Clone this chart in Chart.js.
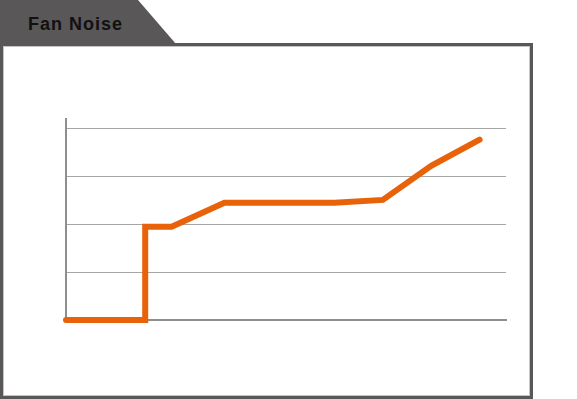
<!DOCTYPE html>
<html>
<head>
<meta charset="utf-8">
<script src="https://cdn.jsdelivr.net/npm/chart.js@4/dist/chart.umd.min.js"></script>
<style>
  html, body { margin: 0; padding: 0; background: #fff; }
  body { width: 577px; height: 399px; position: relative; overflow: hidden; }
  #tab {
    position: absolute; left: 0; top: 0; width: 176px; height: 44px;
    background: #595758;
    clip-path: polygon(0 0, 138px 0, 176px 44px, 0 44px);
    font-family: "Liberation Sans", Arial, sans-serif; font-weight: bold;
    font-size: 18px; letter-spacing: 1px; color: #111;
    box-sizing: border-box; padding-left: 28px; line-height: 48px;
  }
  #box {
    position: absolute; left: 0; top: 43px; width: 533px; height: 356px;
    box-sizing: border-box; border: 3px solid #595758;
    box-shadow: inset 0 0 0 1px #c4c4c4;
  }
  #noiseChart { position: absolute; left: 0; top: 0; }
</style>
</head>
<body>
<div id="tab">Fan Noise</div>
<div id="box"></div>
<canvas id="noiseChart" width="577" height="399"></canvas>
<script>
// fan speed (% of max) vs noise level
const fanSpeed = [0, 18, 18, 24, 36, 61, 72, 83, 94];
const noiseLevel = [0, 0, 19.5, 19.5, 24.5, 24.5, 25.1, 32.2, 37.7];
const gridTicks = [0, 10, 20, 30, 40];

const points = fanSpeed.map((x, i) => ({ x: x, y: noiseLevel[i] }));

new Chart(document.getElementById('noiseChart'), {
  type: 'line',
  data: {
    datasets: [{
      data: points,
      borderColor: '#e8620a',
      borderWidth: 6,
      borderCapStyle: 'round',
      pointRadius: 0,
      tension: 0,
      clip: false
    }]
  },
  options: {
    responsive: false,
    animation: false,
    layout: { padding: { left: 66, right: 71, top: 119, bottom: 79 } },
    plugins: { legend: { display: false }, tooltip: { enabled: false } },
    scales: {
      x: {
        type: 'linear', min: 0, max: 100,
        ticks: { display: false },
        grid: { display: false, drawTicks: false },
        border: { display: true, color: '#8e8e8e', width: 2 }
      },
      y: {
        min: 0, max: 42,
        afterBuildTicks: (scale) => {
          scale.ticks = gridTicks.map(v => ({ value: v }));
        },
        ticks: { display: false },
        grid: { color: '#a6a6a6', lineWidth: 1, drawTicks: false },
        border: { display: true, color: '#8e8e8e', width: 2 }
      }
    }
  }
});
</script>
</body>
</html>
